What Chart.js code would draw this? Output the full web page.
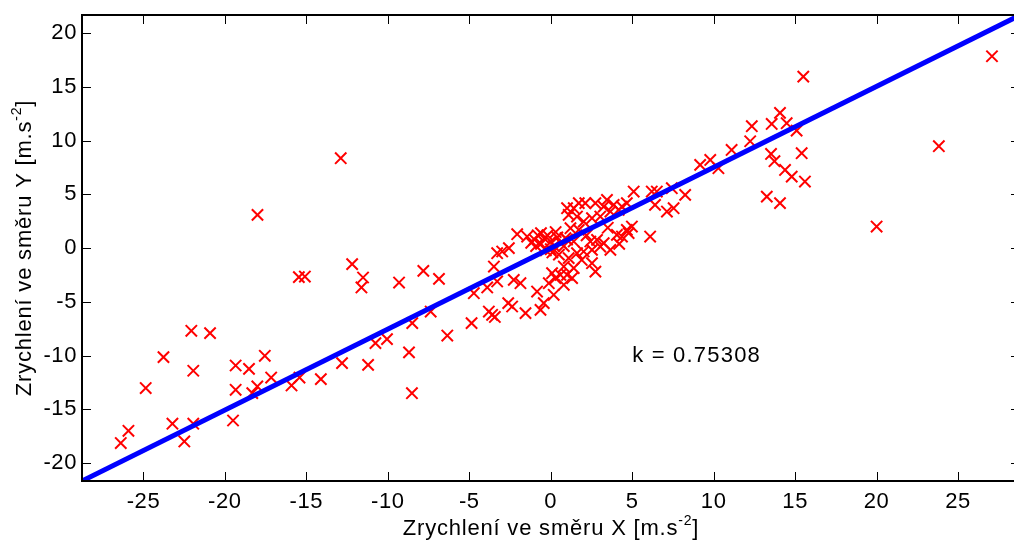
<!DOCTYPE html>
<html>
<head>
<meta charset="utf-8">
<script src="https://cdn.jsdelivr.net/npm/chart.js@4/dist/chart.umd.min.js"></script>
<style>
  html, body { margin: 0; padding: 0; background: #fff; overflow: hidden; }
  #wrap { width: 1030px; height: 544px; }
</style>
</head>
<body>
<div id="wrap"><canvas id="chart" width="1030" height="544"></canvas></div>
<script>
// measured acceleration samples (x, y) in m.s^-2
const accX = [
  -26.39, -25.92, -24.86, -23.77, -23.22, -22.49, -22.06, -21.94, -21.94, -20.91,
  -19.5, -19.34, -19.34, -18.52, -18.32, -18.01, -17.55, -17.16, -15.91, -15.42,
  -15.46, -15.09, -14.11, -12.81, -12.19, -11.52, -11.62, -11.21, -10.76, -10.05,
  -18.0, -12.89,
  -9.31, -7.82, -6.86, -8.5, -7.37, -8.7, -8.52, -6.35, -4.86, -4.72,
  -3.9, -3.49, -3.29, -3.8, -3.6, -3.43, -3.29,
  -2.06, -1.45, -2.98, -2.57, -2.27, -1.86, -2.61, -2.37, -1.55, -0.84,
  -0.63, -0.43, -0.12, 0.18, 0.29, 0.59, 0.8, 1.0, 0.08,
  -1.0, -0.8, -0.6, -0.4, -0.2, 0.0, 0.2, 0.4, 0.6, -0.9,
  -0.3, 0.1, 0.5, 0.8, 1.0, -0.6, 0.3, -1.2, 0.0,
  5.09, 6.2, 6.4, 6.1, 2.12, 2.74, 3.45, 3.25, 3.86, 4.37,
  4.67, 1.41, 1.1, 1.61, 2.02, 2.53, 3.04, 3.66, 4.17, 1.21,
  1.72, 0.9, 1.41, 2.43, 2.84, 3.25, 2.02, 2.53, 3.04, 1.61,
  4.06, 4.67, 4.98, 4.37, 4.78, 1.1, 1.41, 2.74, 1.0, 1.31,
  0.8, 2.53, 3.66, 1.72, 3.5, 4.2, 2.2, 1.9,
  9.17, 9.79, 10.29, 11.1, 13.52, 13.73, 14.38, 14.79, 15.4, 15.6,
  13.26, 14.07, 6.51, 7.43, 8.25, 7.13, 7.54, 15.5, 27.08, 23.82,
  20.0, 12.34, 12.24, 13.56, 14.07, 14.48, 15.09
];
const accY = [
  -18.14, -17.0, -13.02, -10.14, -16.34, -17.99, -7.69, -11.41, -16.34, -7.91,
  -16.04, -10.92, -13.18, -11.23, -13.49, -12.87, -10.02, -12.04, -12.78, -12.04,
  -2.70, -2.64, -12.19, -10.70, -1.49, -2.73, -3.66, -10.86, -8.84, -8.47,
  3.1, 8.37,
  -3.2, -2.11, -2.86, -6.98, -5.9, -9.7, -13.5, -8.13, -6.98, -4.19,
  -3.66, -1.71, -0.47, -5.9, -6.2, -6.4, -3.1,
  1.3, 1.08, -0.31, 0.0, -2.95, -3.26, -5.12, -5.43, -6.05, -4.04,
  -5.74, -5.12, -3.26, -4.34, -2.79, -2.48, -1.71, 3.72, -2.33,
  0.8, 1.2, 0.4, 0.9, 1.2, 0.6, 0.2, 1.0, 0.5, 0.2,
  -0.2, -0.4, -0.6, 0.2, 0.8, 1.4, 1.5, 0.5, -0.1,
  5.27, 5.27, 4.03, 1.08, 4.19, 4.19, 4.49, 3.87, 4.03, 3.87,
  4.19, 3.72, 3.1, 2.94, 2.48, 2.79, 2.94, 3.41, 3.56, 1.86,
  1.7, 0.93, 0.62, 0.62, 0.77, 0.47, -0.31, -0.16, 0.15, -0.47,
  1.24, 1.7, 2.01, 1.08, 1.4, -0.93, -1.86, -2.18, -2.48, -2.79,
  -3.41, -1.4, -0.16, 4.19, 1.9, 0.4, 1.2, -1.1,
  7.75, 8.21, 7.44, 9.14, 8.77, 8.09, 7.28, 6.66, 8.84, 6.2,
  4.8, 4.19, 5.27, 5.58, 4.96, 3.41, 3.72, 15.96, 17.86, 9.49,
  2.01, 11.35, 9.95, 11.56, 12.59, 11.63, 10.94
];

// fitted line y = k*x, drawn between the axis corners
const k = 0.75308;
const fitX = [-28.77, 28.8];
const fitY = [-21.67, 21.69];

const xTicks = [-25, -20, -15, -10, -5, 0, 5, 10, 15, 20, 25];
const yTicks = [-20, -15, -10, -5, 0, 5, 10, 15, 20];

const xTitle = ['Zrychlení ve směru X [m.s', '-2', ']'];
const yTitle = ['Zrychlení ve směru Y [m.s', '-2', ']'];

const FONT = '"Liberation Sans", Arial, sans-serif';

// text with a superscript middle part, centred on (cx, cy)
function drawSupText(ctx, parts, cx, cy) {
  const big = '22px ' + FONT, small = '14px ' + FONT;
  ctx.letterSpacing = '0.8px';
  const widths = parts.map((p, i) => {
    ctx.font = i === 1 ? small : big;
    return ctx.measureText(p).width;
  });
  const total = widths.reduce((a, b) => a + b, 0);
  let px = cx - total / 2;
  ctx.textAlign = 'left';
  ctx.textBaseline = 'middle';
  parts.forEach((p, i) => {
    ctx.font = i === 1 ? small : big;
    ctx.fillText(p, px, i === 1 ? cy - 8 : cy);
    px += widths[i];
  });
}

const matlabAxes = {
  id: 'matlabAxes',
  afterDraw(chart) {
    const {ctx, chartArea: a, scales: {x, y}} = chart;
    ctx.save();
    ctx.fillStyle = '#000';
    ctx.strokeStyle = '#000';

    // inward tick marks on all sides
    ctx.lineWidth = 1;
    ctx.beginPath();
    xTicks.forEach(v => {
      const px = Math.round(x.getPixelForValue(v)) + 0.5;
      ctx.moveTo(px, a.bottom); ctx.lineTo(px, a.bottom - 9);
      ctx.moveTo(px, a.top); ctx.lineTo(px, a.top + 9);
    });
    yTicks.forEach(v => {
      const py = Math.round(y.getPixelForValue(v)) + 0.5;
      ctx.moveTo(a.left, py); ctx.lineTo(a.left + 9, py);
      ctx.moveTo(a.right, py); ctx.lineTo(a.right - 9, py);
    });
    ctx.stroke();

    // axes box
    ctx.lineWidth = 2;
    ctx.strokeRect(a.left, a.top, a.right - a.left, a.bottom - a.top);

    // tick labels
    ctx.font = '22px ' + FONT;
    ctx.letterSpacing = '0.6px';
    ctx.textBaseline = 'middle';
    ctx.textAlign = 'center';
    xTicks.forEach(v => ctx.fillText(String(v), x.getPixelForValue(v), a.bottom + 21));
    ctx.textAlign = 'right';
    yTicks.forEach(v => ctx.fillText(String(v), a.left - 5, y.getPixelForValue(v)));

    // slope annotation
    ctx.textAlign = 'left';
    ctx.letterSpacing = '1.2px';
    ctx.fillText('k = ' + k, x.getPixelForValue(5), y.getPixelForValue(-10));

    // axis titles
    drawSupText(ctx, xTitle, (a.left + a.right) / 2, 529);
    ctx.save();
    ctx.translate(25, (a.top + a.bottom) / 2);
    ctx.rotate(-Math.PI / 2);
    drawSupText(ctx, yTitle, 0, 0);
    ctx.restore();

    ctx.restore();
  }
};

const ctx = document.getElementById('chart').getContext('2d');
new Chart(ctx, {
  type: 'scatter',
  data: {
    datasets: [
      {
        type: 'line',
        data: fitX.map((v, i) => ({x: v, y: fitY[i]})),
        borderColor: '#0000ff',
        borderWidth: 5,
        pointRadius: 0,
        fill: false,
        order: 0
      },
      {
        data: accX.map((v, i) => ({x: v, y: accY[i]})),
        pointStyle: 'crossRot',
        pointRadius: 8,
        pointBorderWidth: 2,
        borderColor: '#ff0000',
        backgroundColor: '#ff0000',
        order: 1
      }
    ]
  },
  options: {
    responsive: false,
    animation: false,
    events: [],
    layout: { padding: { top: 15, right: 8, left: 0, bottom: 0 } },
    plugins: { legend: { display: false }, tooltip: { enabled: false } },
    scales: {
      x: {
        type: 'linear',
        min: -28.77,
        max: 28.8,
        ticks: { display: false, stepSize: 5, includeBounds: false },
        grid: { display: false },
        border: { display: false },
        afterFit: s => { s.height = 63; }
      },
      y: {
        type: 'linear',
        min: -21.67,
        max: 21.7,
        ticks: { display: false, stepSize: 5, includeBounds: false },
        grid: { display: false },
        border: { display: false },
        afterFit: s => { s.width = 82; }
      }
    }
  },
  plugins: [matlabAxes]
});
</script>
</body>
</html>
